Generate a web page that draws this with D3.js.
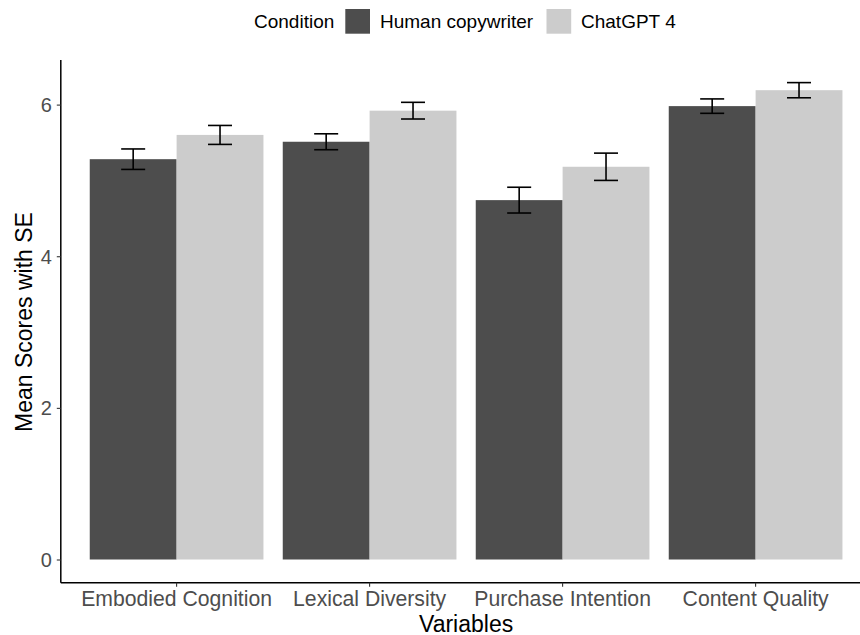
<!DOCTYPE html>
<html>
<head>
<meta charset="utf-8">
<script src="https://cdn.jsdelivr.net/npm/d3@7"></script>
<style>
  html, body { margin: 0; padding: 0; background: #fff; }
  svg { display: block; font-family: "Liberation Sans", Arial, Helvetica, sans-serif; }
</style>
</head>
<body>
<svg id="chart" width="860" height="635"></svg>
<script>
const categories = ["Embodied Cognition", "Lexical Diversity", "Purchase Intention", "Content Quality"];
const conditions = ["Human copywriter", "ChatGPT 4"];
const humanMeans = [5.28, 5.51, 4.74, 5.98];
const humanSE = [0.135, 0.105, 0.17, 0.095];
const gptMeans = [5.60, 5.92, 5.18, 6.19];
const gptSE = [0.125, 0.11, 0.18, 0.10];
const yTicks = [0, 2, 4, 6];
const colors = ["#4D4D4D", "#CCCCCC"];

const svg = d3.select("#chart");

const y = d3.scaleLinear().domain([0, 6]).range([559.5, 104.6]);
const yMin = -0.306, yMax = 6.588;
const x = d3.scaleBand().domain(categories).range([60.8, 871.4]).paddingInner(0.1).paddingOuter(0.15);
const xSub = d3.scaleBand().domain(conditions).range([0, x.bandwidth()]);

const rows = [];
categories.forEach((c, i) => {
  rows.push({cat: c, cond: conditions[0], mean: humanMeans[i], se: humanSE[i]});
  rows.push({cat: c, cond: conditions[1], mean: gptMeans[i], se: gptSE[i]});
});
const color = d3.scaleOrdinal().domain(conditions).range(colors);

// bars
svg.append("g").selectAll("rect").data(rows).join("rect")
  .attr("x", d => x(d.cat) + xSub(d.cond))
  .attr("width", xSub.bandwidth())
  .attr("y", d => y(d.mean))
  .attr("height", d => y(0) - y(d.mean))
  .attr("fill", d => color(d.cond));

// error bars
const capW = 24;
const eg = svg.append("g").attr("stroke", "#000").attr("stroke-width", 1.6).attr("fill", "none");
rows.forEach(d => {
  const cx = x(d.cat) + xSub(d.cond) + xSub.bandwidth() / 2;
  const top = y(d.mean + d.se), bot = y(d.mean - d.se);
  eg.append("line").attr("x1", cx).attr("x2", cx).attr("y1", top).attr("y2", bot);
  eg.append("line").attr("x1", cx - capW / 2).attr("x2", cx + capW / 2).attr("y1", top).attr("y2", top);
  eg.append("line").attr("x1", cx - capW / 2).attr("x2", cx + capW / 2).attr("y1", bot).attr("y2", bot);
});

// axes
const yAxis = d3.axisLeft(y).tickValues(yTicks).tickSize(4).tickPadding(5).tickFormat(d3.format("d"));
const gy = svg.append("g").attr("transform", `translate(${x.range()[0]},0)`).call(yAxis);
gy.select(".domain").attr("d", `M0,${y(yMin)}V${y(yMax)}`);
const xAxis = d3.axisBottom(x).tickSize(4).tickPadding(4);
const gx = svg.append("g").attr("transform", `translate(0,${y(yMin)})`).call(xAxis);
gx.select(".domain").attr("d", `M${x.range()[0]},0H${x.range()[1]}`);
[gx, gy].forEach(g => {
  g.select(".domain").attr("stroke", "#000").attr("stroke-width", 1.5);
  g.selectAll(".tick line").attr("stroke", "#333").attr("stroke-width", 1.1);
  g.selectAll(".tick text").attr("fill", "#4D4D4D").attr("font-family", null);
});
gx.selectAll(".tick text").style("font-size", "21.2px");
gy.selectAll(".tick text").style("font-size", "20px").attr("dy", "0.35em");

// axis titles
svg.append("text").attr("x", (x.range()[0] + x.range()[1]) / 2).attr("y", 631.5)
  .attr("text-anchor", "middle").style("font-size", "23px").attr("fill", "#000").text("Variables");
svg.append("text").attr("transform", `translate(31.5,322) rotate(-90)`)
  .attr("text-anchor", "middle").style("font-size", "23px").attr("fill", "#000").text("Mean Scores with SE");

// legend
const lg = svg.append("g");
lg.append("text").attr("x", 254).attr("y", 28).style("font-size", "19px").attr("fill", "#000").text("Condition");
const keyX = [345.3, 546.5], labX = [380, 581];
conditions.forEach((c, i) => {
  lg.append("rect").attr("x", keyX[i]).attr("y", 9).attr("width", 24.7).attr("height", 24.7).attr("fill", color(c));
  lg.append("text").attr("x", labX[i]).attr("y", 28).style("font-size", "19px").attr("fill", "#000").text(c);
});
</script>
</body>
</html>
